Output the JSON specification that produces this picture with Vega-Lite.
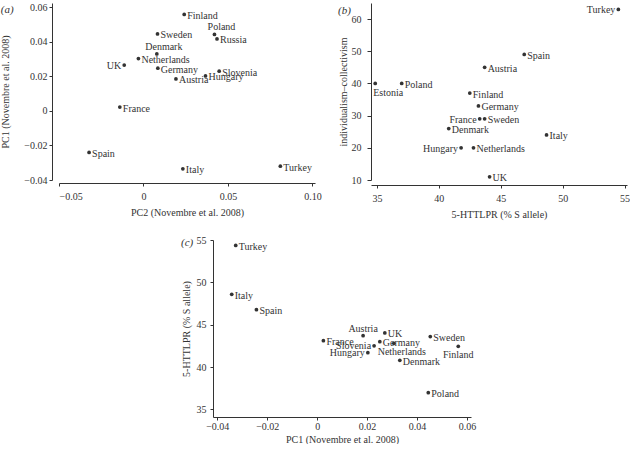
{
  "$schema": "https://vega.github.io/schema/vega-lite/v6.json",
  "padding": {"left": 0, "top": 2, "right": 0, "bottom": 0},
  "background": "white",
  "config": {
    "font": "Liberation Serif",
    "view": {"stroke": null},
    "axis": {"grid": false, "domainColor": "#333", "tickColor": "#333", "labelColor": "#333", "titleColor": "#333", "labelFont": "Liberation Serif", "titleFont": "Liberation Serif", "labelFontSize": 10, "titleFontSize": 10, "titleFontWeight": "normal", "tickSize": 3, "domainWidth": 1, "tickWidth": 1},
    "text": {"font": "Liberation Serif", "fontSize": 10, "color": "#333"},
    "title": {"font": "Liberation Serif", "fontSize": 11, "fontWeight": "normal", "fontStyle": "italic", "color": "#333"}
  },
  "datasets": {
    "pa": [
      {"country": "Finland", "pc2": 0.0241, "pc1": 0.0560},
      {"country": "Sweden", "pc2": 0.0083, "pc1": 0.0447},
      {"country": "Poland", "pc2": 0.0420, "pc1": 0.0444},
      {"country": "Russia", "pc2": 0.0435, "pc1": 0.0418},
      {"country": "Denmark", "pc2": 0.0079, "pc1": 0.0331},
      {"country": "Netherlands", "pc2": -0.0030, "pc1": 0.0304},
      {"country": "UK", "pc2": -0.0114, "pc1": 0.0266},
      {"country": "Germany", "pc2": 0.0085, "pc1": 0.0248},
      {"country": "Slovenia", "pc2": 0.0448, "pc1": 0.0231},
      {"country": "Hungary", "pc2": 0.0367, "pc1": 0.0203},
      {"country": "Austria", "pc2": 0.0192, "pc1": 0.0186},
      {"country": "France", "pc2": -0.0140, "pc1": 0.0023},
      {"country": "Spain", "pc2": -0.0322, "pc1": -0.0240},
      {"country": "Italy", "pc2": 0.0233, "pc1": -0.0335},
      {"country": "Turkey", "pc2": 0.0810, "pc1": -0.0320}
    ],
    "pb": [
      {"country": "Turkey", "httlpr": 54.5, "ic": 63},
      {"country": "Spain", "httlpr": 46.9, "ic": 49},
      {"country": "Austria", "httlpr": 43.7, "ic": 45},
      {"country": "Estonia", "httlpr": 34.86, "ic": 40},
      {"country": "Poland", "httlpr": 37.0, "ic": 40},
      {"country": "Finland", "httlpr": 42.5, "ic": 37},
      {"country": "Germany", "httlpr": 43.2, "ic": 33},
      {"country": "France", "httlpr": 43.3, "ic": 29},
      {"country": "Sweden", "httlpr": 43.7, "ic": 29},
      {"country": "Denmark", "httlpr": 40.8, "ic": 26},
      {"country": "Italy", "httlpr": 48.7, "ic": 24},
      {"country": "Hungary", "httlpr": 41.8, "ic": 20},
      {"country": "Netherlands", "httlpr": 42.8, "ic": 20},
      {"country": "UK", "httlpr": 44.1, "ic": 11}
    ],
    "pc": [
      {"country": "Turkey", "pc1": -0.0326, "httlpr": 54.36},
      {"country": "Italy", "pc1": -0.0342, "httlpr": 48.58},
      {"country": "Spain", "pc1": -0.0243, "httlpr": 46.77},
      {"country": "France", "pc1": 0.0025, "httlpr": 43.11},
      {"country": "Austria", "pc1": 0.0184, "httlpr": 43.7},
      {"country": "UK", "pc1": 0.0271, "httlpr": 44.02},
      {"country": "Germany", "pc1": 0.0251, "httlpr": 43.0},
      {"country": "Slovenia", "pc1": 0.0228, "httlpr": 42.5},
      {"country": "Hungary", "pc1": 0.0203, "httlpr": 41.7},
      {"country": "Netherlands", "pc1": 0.0307, "httlpr": 42.8},
      {"country": "Denmark", "pc1": 0.0331, "httlpr": 40.8},
      {"country": "Sweden", "pc1": 0.0453, "httlpr": 43.6},
      {"country": "Finland", "pc1": 0.0565, "httlpr": 42.44},
      {"country": "Poland", "pc1": 0.0445, "httlpr": 36.97}
    ]
  },
  "spacing": 16,
  "vconcat": [
    {
      "hconcat": [
        {
          "width": 256, "height": 177,
          "title": {"text": "(a)", "anchor": "start", "frame": "bounds", "orient": "top", "offset": 0, "dy": 13},
          "data": {"name": "pa"},
          "encoding": {
            "x": {"field": "pc2", "type": "quantitative", "scale": {"domain": [-0.05, 0.1015], "nice": false, "zero": false},
                  "axis": {"title": "PC2 (Novembre et al. 2008)", "values": [-0.05, 0, 0.05, 0.1], "offset": 3, "labelPadding": 5, "titlePadding": 6,
                           "labelExpr": "abs(datum.value) < 1e-9 ? '0' : replace(format(datum.value, '.2f'), '-', '–')"}},
            "y": {"field": "pc1", "type": "quantitative", "scale": {"domain": [-0.04, 0.0626], "nice": false, "zero": false},
                  "axis": {"title": "PC1 (Novembre et al. 2008)", "values": [-0.04, -0.02, 0, 0.02, 0.04, 0.06], "offset": 7, "labelPadding": 2, "titlePadding": 13,
                           "labelExpr": "abs(datum.value) < 1e-9 ? '0' : replace(format(datum.value, '.2f'), '-', '–')"}}
          },
          "layer": [
            {"mark": {"type": "circle", "size": 14, "color": "#333", "opacity": 1}},
            {"transform": [{"filter": "indexof(['UK','Denmark','Poland'], datum.country) < 0"}],
             "mark": {"type": "text", "align": "left", "baseline": "middle", "dx": 3, "dy": 1.5}, "encoding": {"text": {"field": "country"}}},
            {"transform": [{"filter": "datum.country === 'UK'"}],
             "mark": {"type": "text", "align": "right", "baseline": "middle", "dx": -3, "dy": 0.5}, "encoding": {"text": {"field": "country"}}},
            {"transform": [{"filter": "datum.country === 'Denmark' || datum.country === 'Poland'"}],
             "mark": {"type": "text", "align": "center", "baseline": "middle", "dx": 7, "dy": -7}, "encoding": {"text": {"field": "country"}}}
          ]
        },
        {
          "width": 256, "height": 177,
          "title": {"text": "(b)", "anchor": "start", "frame": "bounds", "orient": "top", "offset": 0, "dy": 13},
          "data": {"name": "pb"},
          "encoding": {
            "x": {"field": "httlpr", "type": "quantitative", "scale": {"domain": [34.52, 55.2], "nice": false, "zero": false},
                  "axis": {"title": "5-HTTLPR (% S allele)", "values": [35, 40, 45, 50, 55], "offset": 5, "labelPadding": 5, "titlePadding": 6}},
            "y": {"field": "ic", "type": "quantitative", "scale": {"domain": [10, 65], "nice": false, "zero": false},
                  "axis": {"title": "individualism–collectivism", "values": [10, 20, 30, 40, 50, 60], "labelPadding": 6, "titlePadding": 3, "tickSize": 4}}
          },
          "layer": [
            {"mark": {"type": "circle", "size": 14, "color": "#333", "opacity": 1}},
            {"transform": [{"filter": "indexof(['Turkey','Hungary','France','Estonia'], datum.country) < 0"}],
             "mark": {"type": "text", "align": "left", "baseline": "middle", "dx": 3, "dy": 1.5}, "encoding": {"text": {"field": "country"}}},
            {"transform": [{"filter": "indexof(['Turkey','Hungary','France'], datum.country) >= 0"}],
             "mark": {"type": "text", "align": "right", "baseline": "middle", "dx": -3, "dy": 1}, "encoding": {"text": {"field": "country"}}},
            {"transform": [{"filter": "datum.country === 'Estonia'"}],
             "mark": {"type": "text", "align": "left", "baseline": "middle", "dx": -2, "dy": 10}, "encoding": {"text": {"field": "country"}}}
          ]
        }
      ],
      "spacing": 56,
      "bounds": "flush"
    },
    {
      "hconcat": [
        {
          "width": 107, "height": 177,
          "data": {"values": [{"v": 0}]},
          "mark": {"type": "point", "opacity": 0},
          "encoding": {}
        },
        {
          "width": 258, "height": 177,
          "title": {"text": "(c)", "anchor": "start", "frame": "bounds", "orient": "top", "offset": 0, "dy": 13},
          "data": {"name": "pc"},
          "encoding": {
            "x": {"field": "pc1", "type": "quantitative", "scale": {"domain": [-0.0417, 0.0616], "nice": false, "zero": false},
                  "axis": {"title": "PC1 (Novembre et al. 2008)", "values": [-0.04, -0.02, 0, 0.02, 0.04, 0.06], "labelPadding": 1, "titlePadding": 3,
                           "labelExpr": "abs(datum.value) < 1e-9 ? '0' : replace(format(datum.value, '.2f'), '-', '–')"}},
            "y": {"field": "httlpr", "type": "quantitative", "scale": {"domain": [34.1, 55], "nice": false, "zero": false},
                  "axis": {"title": "5-HTTLPR (% S allele)", "values": [35, 40, 45, 50, 55], "labelPadding": 4, "titlePadding": 5}}
          },
          "layer": [
            {"mark": {"type": "circle", "size": 14, "color": "#333", "opacity": 1}},
            {"transform": [{"filter": "indexof(['Slovenia','Hungary','Austria','Netherlands','Finland'], datum.country) < 0"}],
             "mark": {"type": "text", "align": "left", "baseline": "middle", "dx": 3, "dy": 1.5}, "encoding": {"text": {"field": "country"}}},
            {"transform": [{"filter": "indexof(['Slovenia','Hungary'], datum.country) >= 0"}],
             "mark": {"type": "text", "align": "right", "baseline": "middle", "dx": -3, "dy": 0.5}, "encoding": {"text": {"field": "country"}}},
            {"transform": [{"filter": "datum.country === 'Austria'"}],
             "mark": {"type": "text", "align": "center", "baseline": "middle", "dx": 0, "dy": -7}, "encoding": {"text": {"field": "country"}}},
            {"transform": [{"filter": "datum.country === 'Netherlands'"}],
             "mark": {"type": "text", "align": "center", "baseline": "middle", "dx": 8, "dy": 9}, "encoding": {"text": {"field": "country"}}},
            {"transform": [{"filter": "datum.country === 'Finland'"}],
             "mark": {"type": "text", "align": "center", "baseline": "middle", "dx": 0, "dy": 9}, "encoding": {"text": {"field": "country"}}}
          ]
        }
      ],
      "spacing": 15
    }
  ]
}
